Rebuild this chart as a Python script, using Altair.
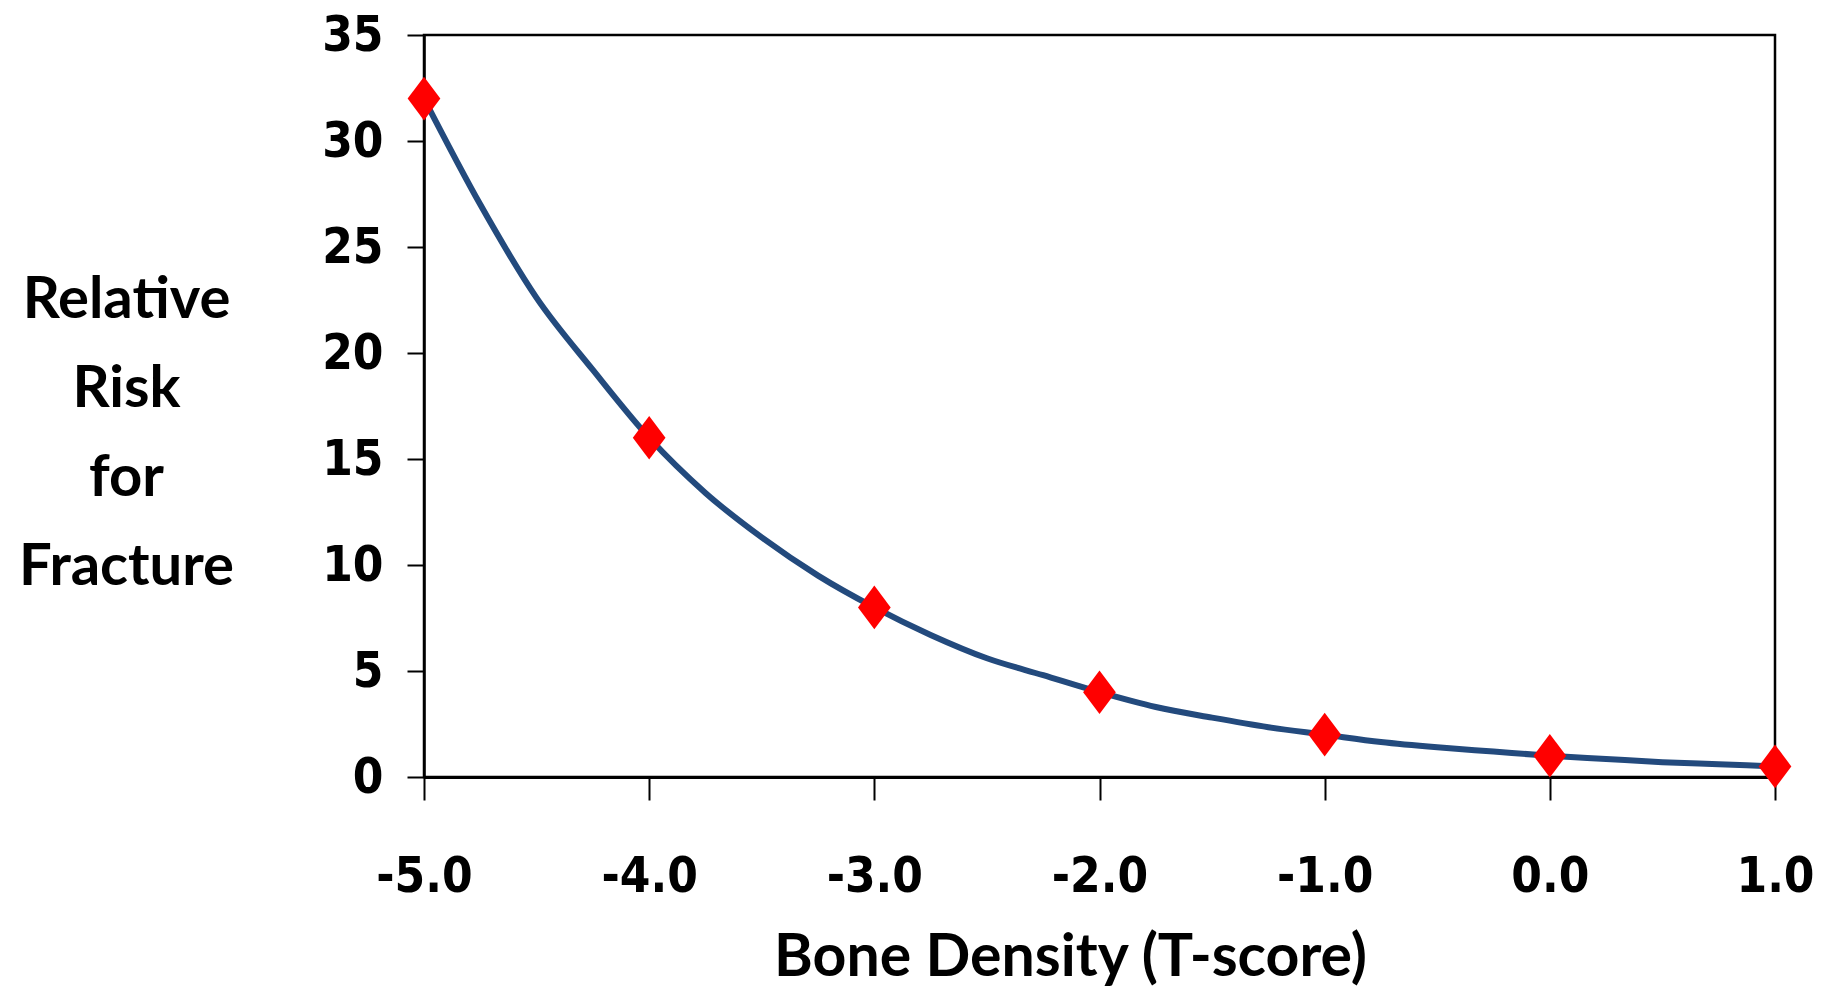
import altair as alt
import pandas as pd

# Curve – T-score vs relative risk
curve_t = [-5.0, -4.75, -4.5, -4.25, -4.0, -3.75, -3.5, -3.25, -3.0, -2.75, -2.5, -2.25,
           -2.0, -1.75, -1.5, -1.25, -1.0, -0.75, -0.5, -0.25, 0.0, 0.25, 0.5, 0.75, 1.0]
curve_rr = [32.0, 27.0, 22.6, 19.2, 16.0, 13.4, 11.3, 9.5, 8.0, 6.7, 5.6, 4.8,
            4.0, 3.3, 2.8, 2.35, 2.0, 1.65, 1.4, 1.2, 1.0, 0.85, 0.7, 0.6, 0.5]

# Marker points
point_t = [-5.0, -4.0, -3.0, -2.0, -1.0, 0.0, 1.0]
point_rr = [32, 16, 8, 4, 2, 1, 0.5]

x_ticks = [-5, -4, -3, -2, -1, 0, 1]
y_ticks = [0, 5, 10, 15, 20, 25, 30, 35]

curve = pd.DataFrame({"t": curve_t, "rr": curve_rr})
points = pd.DataFrame({"t": point_t, "rr": point_rr})

num_font = "Liberation Sans Narrow, Arial Narrow, DejaVu Sans Condensed"
title_font = "Lato, Open Sans, sans-serif"

x_enc = alt.X(
    "t:Q",
    scale=alt.Scale(domain=[-5, 1], nice=False, zero=False),
    axis=alt.Axis(
        values=x_ticks,
        labelExpr="replace(format(datum.value, '.1f'), '\u2212', '-')",
        title="Bone Density (T-score)",
        titleFont=title_font, titleFontSize=59, titleFontWeight="bold", titleColor="black",
        titleX=646, titleY=198, titleAlign="center", titleBaseline="alphabetic",
        labelFont=num_font, labelFontSize=49, labelFontWeight="bold", labelColor="black",
        labelPadding=52, tickSize=23, tickColor="black", tickWidth=2,
        domainColor="black", domainWidth=3, grid=False, labelFlush=False,
    ),
)

y_enc = alt.Y(
    "rr:Q",
    scale=alt.Scale(domain=[0, 35], nice=False),
    axis=alt.Axis(
        values=y_ticks,
        title=["Relative", "Risk", "for", "Fracture"],
        titleFont=title_font, titleFontSize=58, titleFontWeight="bold", titleColor="black",
        titleAngle=0, titleX=-298, titleY=282, titleAlign="center", titleBaseline="alphabetic",
        titleLineHeight=89,
        labelFont=num_font, labelFontSize=49, labelFontWeight="bold", labelColor="black",
        labelPadding=24, tickSize=17, tickColor="black", tickWidth=2,
        domainColor="black", domainWidth=2.5, grid=False,
    ),
)

line = alt.Chart(curve).mark_line(
    interpolate="monotone", strokeWidth=6, color="#234A7D"
).encode(x=x_enc, y=y_enc)

marks = alt.Chart(points).mark_point(
    shape="M0,-1L0.75,0L0,1L-0.75,0Z", filled=True, color="#FF0000", opacity=1, size=1900
).encode(x="t:Q", y="rr:Q")

chart = (
    alt.layer(line, marks)
    .properties(
        width=1351, height=742,
        autosize="none",
        background="white",
        padding={"left": 424, "top": 35, "right": 57, "bottom": 212},
    )
    .configure_view(stroke="black", strokeWidth=2.5)
)

chart.save("out.html", embed_options={"renderer": "svg", "actions": False})
